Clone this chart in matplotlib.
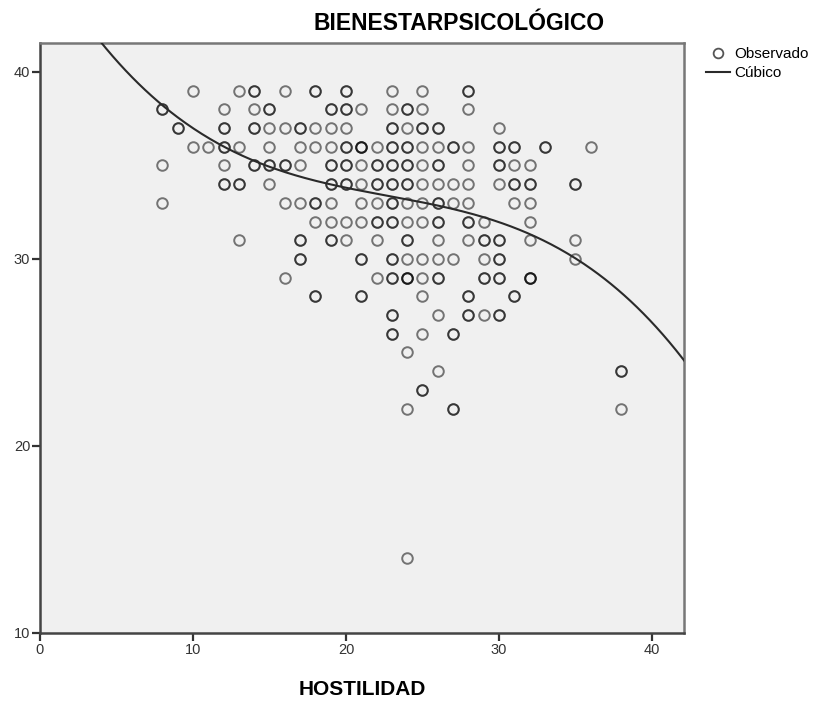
import numpy as np
import matplotlib
matplotlib.use("Agg")
import matplotlib.pyplot as plt
from matplotlib.lines import Line2D

# Observed points: each row lists (HOSTILIDAD, count) for one BIENESTAR value.
# count > 1 marks overlapping (darker) circles.
bienestar_rows = [39, 38, 37, 36, 35, 34, 33, 32, 31, 30, 29, 28, 27, 26, 25, 24, 23, 22, 14]
hostilidad_rows = [
    [(10, 1), (13, 1), (14, 2), (16, 1), (18, 2), (20, 2), (23, 1), (25, 1), (28, 2)],
    [(8, 2), (12, 1), (14, 1), (15, 2), (19, 2), (20, 2), (21, 1), (23, 1), (24, 2), (25, 1), (28, 1)],
    [(9, 2), (12, 2), (14, 2), (15, 1), (16, 1), (17, 2), (18, 1), (19, 1), (20, 1), (23, 2), (24, 1),
     (25, 2), (26, 2), (30, 1)],
    [(10, 1), (11, 1), (12, 2), (13, 1), (15, 1), (17, 1), (18, 1), (19, 1), (20, 2), (21, 3), (22, 1),
     (23, 2), (24, 2), (25, 1), (26, 1), (27, 2), (28, 1), (30, 2), (31, 2), (33, 2), (36, 1)],
    [(8, 1), (12, 1), (14, 2), (15, 2), (16, 2), (17, 1), (19, 2), (20, 2), (21, 1), (22, 2), (23, 2),
     (24, 2), (25, 1), (26, 2), (28, 1), (30, 2), (31, 1), (32, 1)],
    [(12, 2), (13, 2), (15, 1), (19, 2), (20, 2), (21, 1), (22, 2), (23, 2), (24, 2), (25, 1), (26, 1),
     (27, 1), (28, 1), (30, 1), (31, 2), (32, 2), (35, 2)],
    [(8, 1), (16, 1), (17, 1), (18, 2), (19, 1), (21, 1), (22, 1), (23, 2), (24, 1), (25, 1), (26, 2),
     (27, 1), (28, 1), (31, 1), (32, 1)],
    [(18, 1), (19, 1), (20, 1), (21, 1), (22, 2), (23, 2), (24, 1), (25, 1), (26, 2), (28, 2), (29, 1),
     (32, 1)],
    [(13, 1), (17, 2), (19, 2), (20, 1), (22, 1), (24, 2), (26, 1), (28, 1), (29, 2), (30, 2), (32, 1),
     (35, 1)],
    [(17, 2), (21, 2), (23, 2), (24, 1), (25, 1), (26, 1), (27, 1), (29, 1), (30, 2), (35, 1)],
    [(16, 1), (22, 1), (23, 2), (24, 3), (25, 1), (26, 2), (29, 2), (30, 2), (32, 3)],
    [(18, 2), (21, 2), (25, 1), (28, 2), (31, 2)],
    [(23, 2), (26, 1), (28, 2), (29, 1), (30, 2)],
    [(23, 2), (25, 1), (27, 2)],
    [(24, 1)],
    [(26, 1), (38, 2)],
    [(25, 2)],
    [(24, 1), (27, 2), (38, 1)],
    [(24, 1)],
]

# Cubic model curve: values (HOSTILIDAD -> predicted BIENESTAR)
cubic_read_x = [4.05, 8.0, 12.0, 15.0, 19.0, 25.0, 28.1, 33.3, 35.0, 39.2, 42.0]
cubic_read_y = [41.55, 38.18, 36.0, 34.97, 34.0, 33.0, 32.46, 30.86, 30.0, 27.27, 24.7]

x_ticks = [0, 10, 20, 30, 40]
y_ticks = [10, 20, 30, 40]
title = "BIENESTARPSICOLÓGICO"
x_label = "HOSTILIDAD"
legend_labels = ["Observado", "Cúbico"]

# expand to individual observations
hx, by = [], []
for yv, row in zip(bienestar_rows, hostilidad_rows):
    for xv, n in row:
        hx.extend([xv] * n)
        by.extend([yv] * n)
hx = np.array(hx, float)
by = np.array(by, float)

coef = np.polyfit(cubic_read_x, cubic_read_y, 3)

plt.rcParams['font.family'] = ['Liberation Sans', 'DejaVu Sans']

fig = plt.figure(figsize=(8.16, 7.01), dpi=100)
ax = fig.add_axes([40 / 816, 1 - 633 / 701, (684 - 40) / 816, (633 - 43) / 701])
ax.set_facecolor('#f0f0f0')

ax.plot(hx, by, linestyle='none', marker='o', markersize=7.6, markerfacecolor='none',
        markeredgecolor='black', markeredgewidth=1.4, alpha=0.52, zorder=3)

xx = np.linspace(0, 42.2, 400)
ax.plot(xx, np.polyval(coef, xx), color='#2a2a2a', linewidth=1.5, zorder=4)

ax.set_xlim(0, 42.1)
ax.set_ylim(10, 41.55)
ax.set_xticks(x_ticks)
ax.set_yticks(y_ticks)
ax.tick_params(axis='both', direction='out', length=6, width=1.6, color='#333333',
               labelsize=10.5, labelcolor='#333333', pad=1)
for side in ['left', 'bottom']:
    ax.spines[side].set_color('#444444')
    ax.spines[side].set_linewidth(1.8)
for side in ['top', 'right']:
    ax.spines[side].set_color('#777777')
    ax.spines[side].set_linewidth(1.8)

ax.set_xlabel(x_label, fontsize=15, fontweight='bold', labelpad=17)
fig.text(459 / 816, 1 - 24 / 701, title, ha='center', va='center', fontsize=16.5, fontweight='bold')

handles = [
    Line2D([], [], linestyle='none', marker='o', markersize=7, markerfacecolor='none',
           markeredgecolor='#555555', markeredgewidth=1.3),
    Line2D([], [], color='#2a2a2a', linewidth=1.5),
]
ax.legend(handles, legend_labels, loc='upper left', bbox_to_anchor=(1.024, 1.003), frameon=False,
          fontsize=11, handlelength=1.6, handletextpad=0.25, labelspacing=0.3, borderaxespad=0)

fig.savefig('out.png', dpi=100)
